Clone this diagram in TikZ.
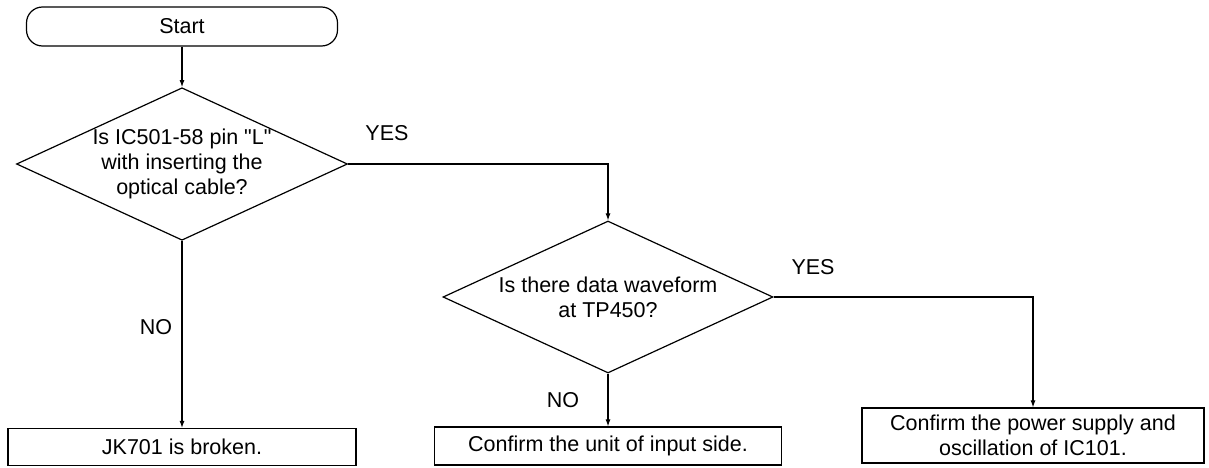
\documentclass[tikz,border=0pt]{standalone}
\usepackage{fontspec}
\setmainfont{Liberation Sans}
\usetikzlibrary{positioning,arrows.meta,shapes.geometric}

\begin{document}
\begin{tikzpicture}[
  x=1pt, y=-1pt,
  font=\fontsize{21.5}{25}\selectfont,
  term/.style={draw, rounded corners=16pt, minimum width=311pt, minimum height=39pt,
               inner sep=0pt, line width=1.2pt},
  test/.style={draw, diamond, aspect=2.17, minimum width=330pt, minimum height=152pt,
               inner sep=0pt, align=center, line width=1.2pt},
  res/.style={draw, align=center, inner sep=0pt, line width=1.2pt},
  arr/.style={-{Latex[length=7pt, width=5pt]}, line width=1.1pt},
  lbl/.style={inner sep=1pt}]

\useasboundingbox (0,0) rectangle (1209,468);

% ---- left column ----
\node[term] (start) at (182,26.5) {Start};
\node[test] (q1) at (182,164)
  {Is IC501-58 pin \textquotedbl L\textquotedbl\\with inserting the\\optical cable?};
\node[res, minimum width=348pt, minimum height=37pt] (broken) at (182,447) {JK701 is broken.};

% ---- middle column ----
\node[test] (q2) at (608,297) {Is there data waveform\\at TP450?};
\node[res, minimum width=347pt, minimum height=38pt] (input) at (608,446) {Confirm the unit of input side.};

% ---- right column ----
\node[res, minimum width=342pt, minimum height=55pt] (power) at (1033,435.5)
  {Confirm the power supply and\\oscillation of IC101.};

\draw[arr] (start) -- (q1);
\draw[arr] (q1) -- (broken);
\draw[arr] (q1.east) -| (q2.north);
\draw[arr] (q2) -- (input);
\draw[arr] (q2.east) -| (power.north);

% ---- branch labels ----
\node[lbl] (yes1) at (387,133) {YES};
\node[lbl] (no1) at (156,327) {NO};
\node[lbl] (no2) at (563,400) {NO};
\node[lbl] (yes2) at (813,267) {YES};
\end{tikzpicture}
\end{document}
